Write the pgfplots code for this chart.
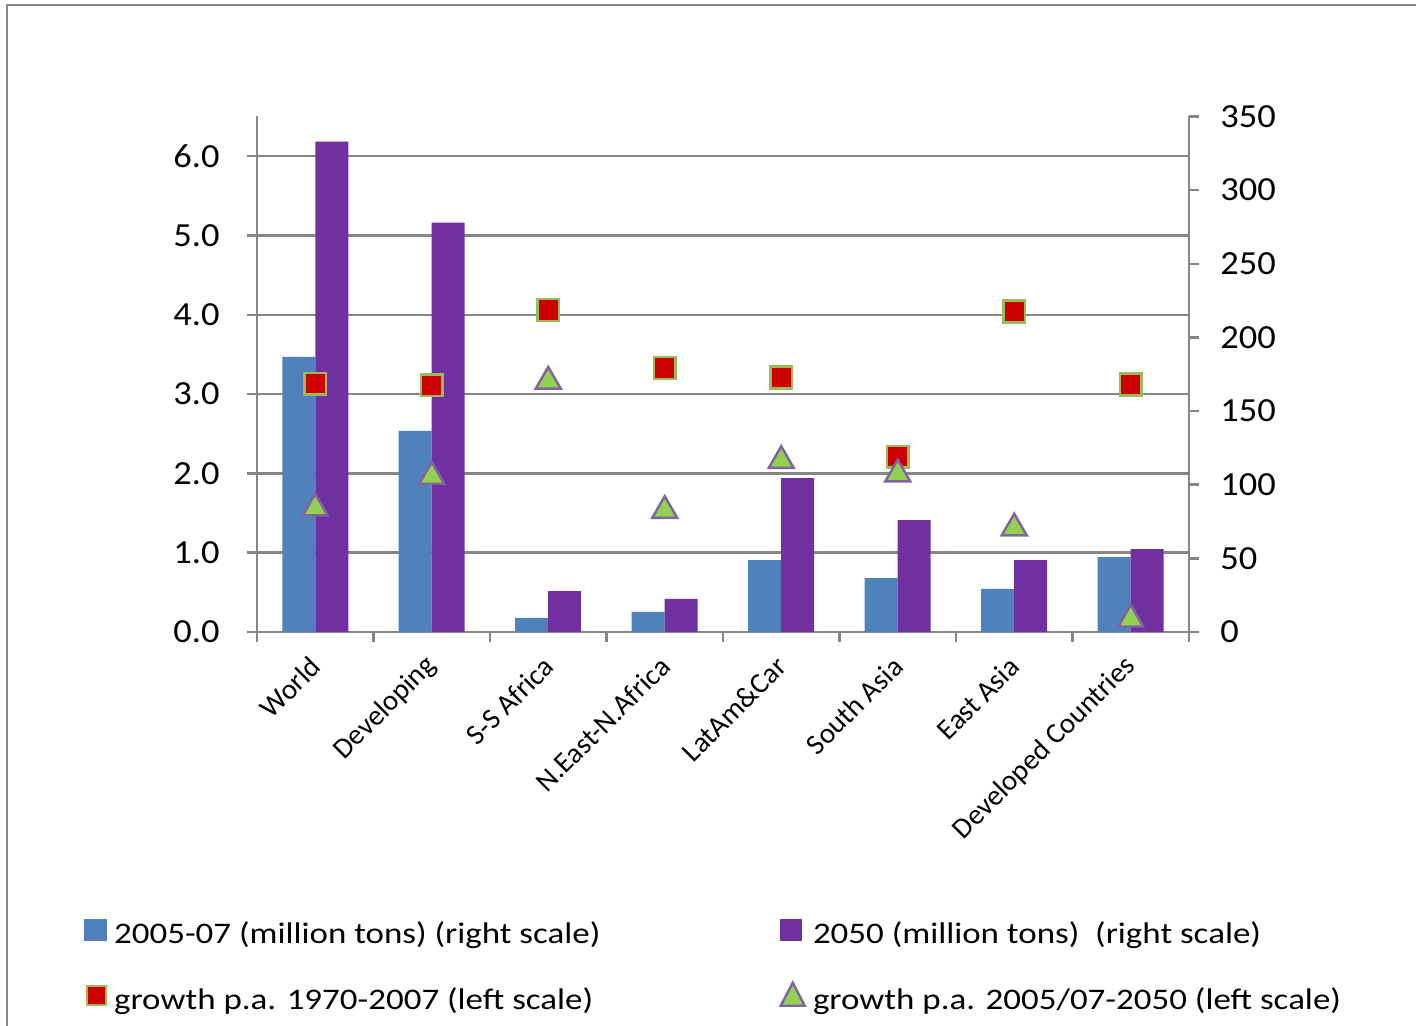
\documentclass[border=0pt]{standalone}
\usepackage{pgfplots}
\pgfplotsset{compat=1.18}
\usepackage{pgfplotstable}
\usepackage{fontspec}
\setmainfont{Carlito}
\newfontfamily\tickfont{Carlito}[FakeStretch=1.08]
\newfontfamily\legfont{Carlito}[FakeStretch=1.17]
\definecolor{barblue}{HTML}{4F81BD}
\definecolor{barpurple}{HTML}{7030A0}
\definecolor{mred}{HTML}{CC0000}
\definecolor{mgreenedge}{HTML}{9BBB59}
\definecolor{tgreen}{HTML}{92D050}
\definecolor{tpurpleedge}{HTML}{8064A2}
\definecolor{axgray}{HTML}{868686}

\pgfplotstableread{
x y0507 y2050
0 186.8 333.0
1 136.6 278.0
2 9.5 27.8
3 13.6 22.4
4 48.8 104.5
5 36.6 76.0
6 29.2 48.8
7 50.9 56.3
}\bars

\pgfplotstableread{
x g7007 g0550
0 3.13 1.56
1 3.11 1.96
2 4.06 3.16
3 3.33 1.53
4 3.21 2.16
5 2.21 1.99
6 4.04 1.31
7 3.12 0.16
}\growth

\pgfplotsset{
  base/.style={
    scale only axis, width=9.32cm, height=5.155cm,
    xmin=-0.5, xmax=7.5,
    at={(2.57cm,3.94cm)}, anchor=south west,
    tick align=outside,
    axis line style={axgray, line width=0.7pt},
    tick style={axgray, line width=0.7pt},
    major tick length=0.1cm,
    ticklabel style={font=\tickfont\fontsize{9.6}{11}\selectfont, text=black},
    /pgf/number format/assume math mode=true,
  }
}

\begin{document}
\begin{tikzpicture}
\useasboundingbox (0,0) rectangle (14.16cm,10.26cm);
\draw[axgray, line width=0.8pt] (0.07cm,0) -- (0.07cm,10.21cm) -- (14.16cm,10.21cm);

% axis 1: left scale, gridlines, x axis with boundary ticks
\begin{axis}[base,
  ymin=0, ymax=6.5, ytick={0,1,...,6},
  yticklabel style={/pgf/number format/fixed, /pgf/number format/fixed zerofill, /pgf/number format/precision=1, xshift=-0.15cm},
  ymajorgrids, grid style={axgray, line width=0.7pt},
  axis y line*=left, axis x line*=bottom,
  xtick={-0.5,0.5,...,7.5}, xticklabels={},
]
\addplot[draw=none] coordinates {(0,0)};
\end{axis}

% axis 2: bars, right scale
\begin{axis}[base,
  ymin=0, ymax=350, ytick={0,50,...,350},
  axis y line*=right, axis x line=none,
  yticklabel style={anchor=west, xshift=0.09cm},
  ybar=0pt, bar width=0.33cm,
]
\addplot[fill=barblue, draw=none] table[x=x, y=y0507] {\bars};
\addplot[fill=barpurple, draw=none] table[x=x, y=y2050] {\bars};
\end{axis}

% axis 3: markers (left scale), category labels, legend
\begin{axis}[base,
  ymin=0, ymax=6.5,
  axis y line=none, axis x line*=bottom,
  x axis line style={draw=none},
  xtick={0,...,7}, major tick length=0pt,
  xticklabels={World,Developing,S-S Africa,N.East-N.Africa,LatAm\&Car,South Asia,East Asia,Developed Countries},
  xticklabel style={font=\fontsize{8.2}{10}\selectfont, rotate=45, anchor=east, xshift=-0.086cm, yshift=-0.213cm},
  legend columns=2,
  legend style={at={(-0.1975,-0.534)}, anchor=north west, draw=none, fill=none,
    font=\legfont\fontsize{8.5}{10}\selectfont,
    /tikz/every even column/.append style={column sep=1.72cm},
    row sep=0.24cm},
  legend cell align=left,
]
\addplot[only marks, mark=square*, mark size=3.1pt, mark options={fill=mred, draw=mgreenedge, line width=0.7pt}, forget plot] table[x=x, y=g7007] {\growth};
\addplot[only marks, mark=triangle*, mark size=4.1pt, mark options={fill=tgreen, draw=tpurpleedge, line width=0.7pt}, forget plot] table[x=x, y=g0550] {\growth};

\addlegendimage{legend image code/.code={\fill[barblue] (0,-0.05cm) rectangle (0.21cm,0.16cm);}}
\addlegendentry{2005-07 (million tons) (right scale)}
\addlegendimage{legend image code/.code={\fill[barpurple] (0,-0.05cm) rectangle (0.21cm,0.16cm);}}
\addlegendentry{2050 (million tons) \ (right scale)}
\addlegendimage{legend image code/.code={\draw[fill=mred, draw=mgreenedge, line width=0.7pt] (0.02cm,-0.04cm) rectangle (0.21cm,0.15cm);}}
\addlegendentry{growth p.a. 1970-2007 (left scale)}
\addlegendimage{legend image code/.code={\draw[fill=tgreen, draw=tpurpleedge, line width=0.7pt] (0.0cm,-0.05cm) -- (0.24cm,-0.05cm) -- (0.12cm,0.18cm) -- cycle;}}
\addlegendentry{growth p.a. 2005/07-2050 (left scale)}
\end{axis}
\end{tikzpicture}
\end{document}
